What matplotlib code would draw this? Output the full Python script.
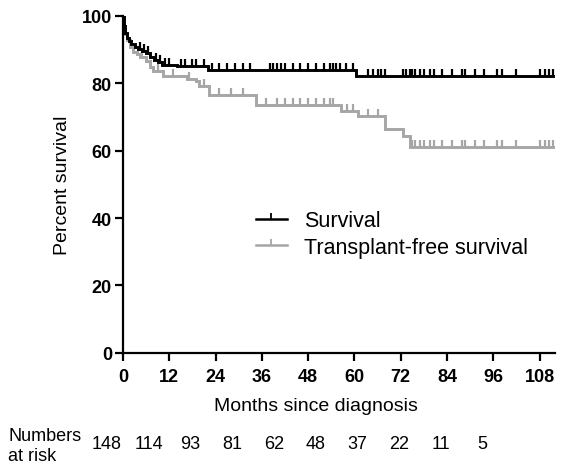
import numpy as np
import matplotlib
matplotlib.use("Agg")
import matplotlib.pyplot as plt
from matplotlib.path import Path
from matplotlib.lines import Line2D

plt.rcParams['font.family'] = ['Liberation Sans', 'DejaVu Sans']

# Kaplan-Meier step data (months, percent after the step)
surv_t = [0, 0.3, 0.6, 1.0, 1.5, 2.0, 3.0, 4.0, 5.0, 6.0, 7.0, 8.0, 9.0, 10.0,
          14.0, 22.0, 60.5]
surv_v = [100, 97, 95, 93.5, 92.5, 91.5, 90.8, 90.2, 89.6, 88.8, 87.8, 86.8,
          86.2, 85.5, 85.0, 84.0, 82.0]

tfs_t = [0, 0.3, 0.6, 1.0, 1.8, 2.6, 3.5, 4.4, 6.0, 7.0, 7.8, 10.3, 16.5,
         19.0, 19.8, 22.4, 34.5, 56.5, 61.0, 68.0, 72.5, 74.3]
tfs_v = [100, 97, 94.5, 92.7, 90.7, 89.3, 88.5, 87.8, 86.6, 84.8, 83.7, 82.2,
         81.3, 80.7, 79.3, 76.5, 73.5, 71.8, 70.3, 66.5, 64.4, 61.0]

# censoring times (months)
surv_cens = [4.5, 5.5, 6.5, 8.5, 9.5, 11, 12, 15, 16, 18, 19, 21, 23, 25, 27,
             29, 31, 33, 38, 39, 40, 41, 42, 44, 46, 48, 50, 52, 53.7, 54.5,
             55.3, 56.3, 57.8, 59.6, 63.5, 64.8, 66, 66.8, 68, 72.5, 73.3,
             74.3, 75, 75.8, 77, 78, 79.7, 80.7, 82.8, 85.3, 88, 88.8, 91.3,
             93.6, 97, 98.2, 102, 108, 109.3, 110.5, 111.5]
tfs_cens = [5, 9, 13, 17, 21, 25, 28, 31, 37, 40, 42, 44, 46, 48, 50, 52,
            53.7, 54.5, 58, 59.6, 63.5, 66, 75, 75.8, 77, 78, 79.7, 80.7,
            82.8, 85.3, 88, 88.8, 91.3, 93.6, 97, 98.2, 102, 108, 109.3,
            110.5, 111.5]
t_end = 111.5

risk_labels = [148, 114, 93, 81, 62, 48, 37, 22, 11, 5]
xticks = [0, 12, 24, 36, 48, 60, 72, 84, 96, 108]
yticks = [0, 20, 40, 60, 80, 100]

tick_mark = Path([(0, 0), (0, 1)], [Path.MOVETO, Path.LINETO])


def step_at(ts, vs, x):
    i = np.searchsorted(ts, x, side='right') - 1
    return np.asarray(vs)[i]


fig = plt.figure(figsize=(5.86, 4.77), dpi=100)
ax = fig.add_axes([0.21, 0.258, 0.737, 0.707])

series = [
    (surv_t, surv_v, surv_cens, 'black', 'Survival'),
    (tfs_t, tfs_v, tfs_cens, '#a6a6a6', 'Transplant-free survival'),
]
handles = []
for ts, vs, cens, col, lab in reversed(series):
    xs = list(ts) + [t_end]
    ys = list(vs) + [vs[-1]]
    ax.step(xs, ys, where='post', color=col, lw=2.1, solid_joinstyle='miter')
    cy = step_at(ts, vs, cens)
    ax.plot(cens, cy, ls='none', marker=tick_mark, ms=10, mew=1.6, color=col)
for ts, vs, cens, col, lab in series:
    handles.append(Line2D([], [], color=col, lw=1.8, marker=tick_mark,
                          ms=9, mew=1.3, label=lab))

ax.set_xlim(0, 112)
ax.set_ylim(0, 100)
ax.set_xticks(xticks)
ax.set_yticks(yticks)
ax.spines['top'].set_visible(False)
ax.spines['right'].set_visible(False)
for s in ('left', 'bottom'):
    ax.spines[s].set_linewidth(1.6)
ax.tick_params(width=1.6, length=6, labelsize=13)
ax.tick_params(axis='x', pad=5)
ax.tick_params(axis='y', pad=2)
for lbl in ax.get_xticklabels() + ax.get_yticklabels():
    lbl.set_fontweight('bold')
ax.set_xlabel('Months since diagnosis', fontsize=14, labelpad=9)
ax.xaxis.set_label_coords(0.447, -0.13)
ax.set_ylabel('Percent survival', fontsize=14, labelpad=8)

ax.legend(handles=handles, loc='center left', bbox_to_anchor=(0.262, 0.353),
          frameon=False, fontsize=15.5, handlelength=1.45, numpoints=1,
          labelspacing=0.25, handletextpad=0.8)

fig.text(0.014, 0.084, 'Numbers', fontsize=13, va='center', ha='left')
fig.text(0.014, 0.042, 'at risk', fontsize=13, va='center', ha='left')
for i, n in enumerate(risk_labels):
    fig.text(0.1826 + 0.0712 * i, 0.069, str(n), fontsize=13,
             va='center', ha='center')

fig.savefig('out.png', dpi=100)
